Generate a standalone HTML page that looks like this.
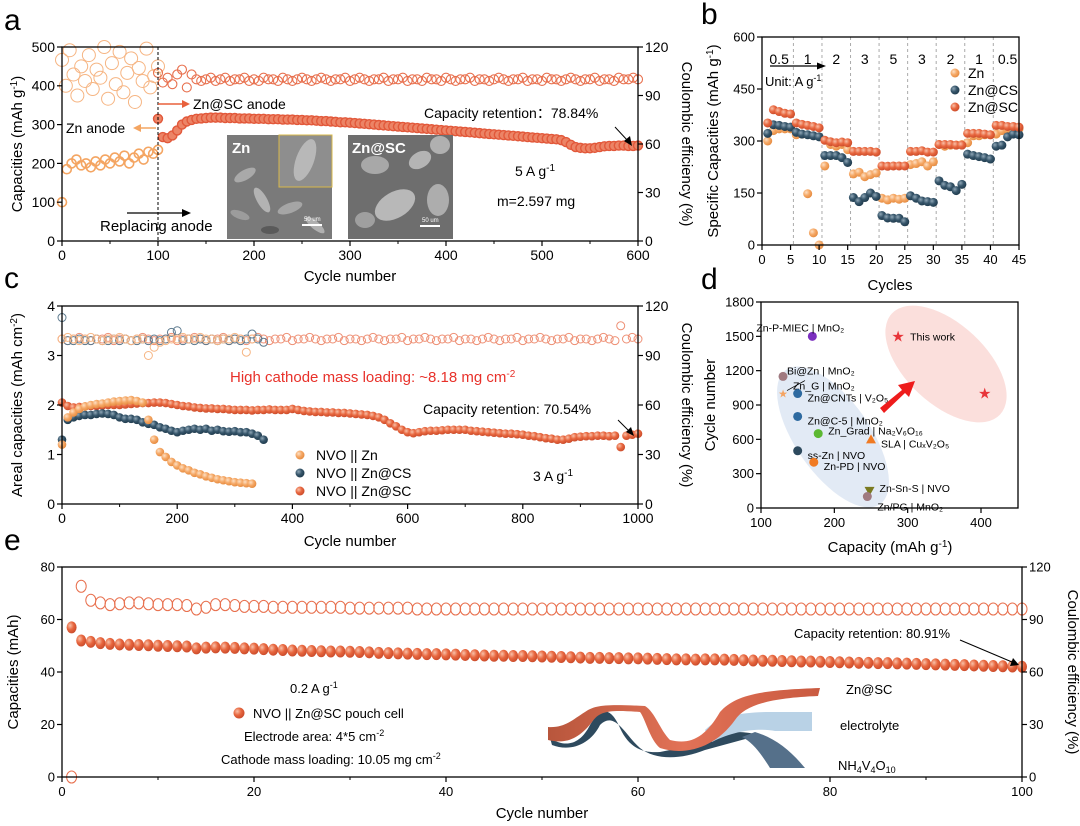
<!DOCTYPE html>
<html><head><meta charset="utf-8"><style>
html,body{margin:0;padding:0;background:#fff}
svg{display:block;font-family:"Liberation Sans",Arial,sans-serif}
</style></head><body>
<svg id="fig" width="1080" height="826" viewBox="0 0 1080 826" xmlns="http://www.w3.org/2000/svg">
<defs>
<radialGradient id="gOr" cx="0.35" cy="0.35" r="0.7"><stop offset="0" stop-color="#fde0c4"/><stop offset="0.5" stop-color="#f5a866"/><stop offset="1" stop-color="#e58a3e"/></radialGradient>
<radialGradient id="gRd" cx="0.35" cy="0.35" r="0.7"><stop offset="0" stop-color="#f8c0a8"/><stop offset="0.5" stop-color="#e8673f"/><stop offset="1" stop-color="#c94a2a"/></radialGradient>
<radialGradient id="gNv" cx="0.35" cy="0.35" r="0.7"><stop offset="0" stop-color="#8fa6b6"/><stop offset="0.5" stop-color="#36556a"/><stop offset="1" stop-color="#1f3a4c"/></radialGradient>
<linearGradient id="gRib" x1="0" y1="0" x2="1" y2="0"><stop offset="0" stop-color="#b8563c"/><stop offset="0.5" stop-color="#e27257"/><stop offset="1" stop-color="#c95a40"/></linearGradient>
</defs>
<g>
<ellipse cx="833" cy="437" rx="82" ry="37" fill="#dde6f3" opacity="0.85" transform="rotate(55 833 437)"/>
<ellipse cx="946" cy="364" rx="74" ry="40" fill="#fbdcd8" opacity="0.9" transform="rotate(43 946 364)"/>
</g>
<g id="panelA"></g>
<g id="panelB"></g>
<g id="panelC"></g>
<g id="panelD"></g>
<g id="panelE"></g>

<text x="4" y="30" font-size="30">a</text>
<text x="701" y="24" font-size="30">b</text>
<text x="4" y="288" font-size="30">c</text>
<text x="701" y="289" font-size="30">d</text>
<text x="4" y="550" font-size="30">e</text>

<g font-size="14">
<text x="22" y="144" transform="rotate(-90 22 144)" text-anchor="middle" font-size="15">Capacities (mAh g<tspan dy="-5" font-size="10">-1</tspan><tspan dy="5">)</tspan></text>
<text x="682" y="144" transform="rotate(90 682 144)" text-anchor="middle" font-size="15">Coulombic efficiency (%)</text>
<text x="350" y="281" text-anchor="middle" font-size="15">Cycle number</text>
<line x1="158" y1="104" x2="186" y2="104" stroke="#e8603c" stroke-width="1.5"/>
<polygon points="190,104 182,100 182,108" fill="#e8603c"/>
<text x="193" y="109">Zn@SC anode</text>
<line x1="156" y1="128" x2="138" y2="128" stroke="#f4a562" stroke-width="1.5"/>
<polygon points="133,128 141,124 141,132" fill="#f4a562"/>
<text x="66" y="133">Zn anode</text>
<line x1="127" y1="213" x2="184" y2="213" stroke="#000" stroke-width="1.3"/>
<polygon points="191,213 182,209 182,217" fill="#000"/>
<text x="100" y="231" font-size="15">Replacing anode</text>
<text x="424" y="118">Capacity retention：78.84%</text>
<line x1="615" y1="127" x2="628" y2="141" stroke="#000" stroke-width="1"/>
<polygon points="632,146 624,141 630,136" fill="#000"/>
<text x="515" y="176">5 A g<tspan dy="-5" font-size="10">-1</tspan></text>
<text x="497" y="206">m=2.597 mg</text>
</g>
<g>
<rect x="227" y="135" width="105" height="104" fill="#7a7a7a"/>
<ellipse cx="245" cy="175" rx="12" ry="5" fill="#a9a9a9" transform="rotate(-30 245 175)"/>
<ellipse cx="262" cy="200" rx="14" ry="5" fill="#b3b3b3" transform="rotate(60 262 200)"/>
<ellipse cx="240" cy="215" rx="10" ry="4" fill="#9c9c9c" transform="rotate(20 240 215)"/>
<ellipse cx="290" cy="208" rx="13" ry="5" fill="#a5a5a5" transform="rotate(-20 290 208)"/>
<ellipse cx="315" cy="225" rx="12" ry="4" fill="#b0b0b0" transform="rotate(40 315 225)"/>
<ellipse cx="270" cy="230" rx="9" ry="4" fill="#5a5a5a"/>
<rect x="279" y="135" width="53" height="52" fill="#8e8e8e" stroke="#d8b84a" stroke-width="1"/>
<ellipse cx="305" cy="160" rx="9" ry="22" fill="#b8b8b8" transform="rotate(20 305 160)"/>
<text x="232" y="153" font-size="15" font-weight="bold" fill="#fff">Zn</text>
<line x1="302" y1="225" x2="322" y2="225" stroke="#fff" stroke-width="2"/>
<text x="304" y="221" font-size="6" fill="#fff">50 um</text>
</g>
<g>
<rect x="348" y="135" width="105" height="104" fill="#6e6e6e"/>
<ellipse cx="375" cy="165" rx="14" ry="9" fill="#a8a8a8"/>
<ellipse cx="420" cy="160" rx="12" ry="8" fill="#b4b4b4" transform="rotate(-30 420 160)"/>
<ellipse cx="395" cy="205" rx="22" ry="13" fill="#b8b8b8" transform="rotate(-30 395 205)"/>
<ellipse cx="438" cy="200" rx="11" ry="16" fill="#adadad"/>
<ellipse cx="365" cy="220" rx="10" ry="8" fill="#9f9f9f"/>
<ellipse cx="440" cy="145" rx="10" ry="9" fill="#b0b0b0"/>
<text x="352" y="153" font-size="15" font-weight="bold" fill="#fff">Zn@SC</text>
<line x1="420" y1="226" x2="440" y2="226" stroke="#fff" stroke-width="2"/>
<text x="422" y="222" font-size="6" fill="#fff">50 um</text>
</g>

<g font-size="14">
<text x="718" y="141" transform="rotate(-90 718 141)" text-anchor="middle" font-size="15">Specific Capacities (mAh g<tspan dy="-5" font-size="10">-1</tspan><tspan dy="5">)</tspan></text>
<text x="890" y="290" text-anchor="middle" font-size="15">Cycles</text>
<line x1="770" y1="66" x2="818" y2="66" stroke="#000" stroke-width="1.2"/>
<polygon points="826,66 817,62.5 817,69.5" fill="#000"/>
<text x="765" y="86" font-size="13">Unit: A g<tspan dy="-5" font-size="9">-1</tspan></text>
<circle cx="955" cy="73" r="4.5" fill="url(#gOr)"/>
<text x="968" y="78">Zn</text>
<circle cx="955" cy="90" r="4.5" fill="url(#gNv)"/>
<text x="968" y="95">Zn@CS</text>
<circle cx="955" cy="107" r="4.5" fill="url(#gRd)"/>
<text x="968" y="112">Zn@SC</text>
</g>

<g font-size="14">
<text x="22" y="405" transform="rotate(-90 22 405)" text-anchor="middle" font-size="15">Areal capacities (mAh cm<tspan dy="-5" font-size="10">-2</tspan><tspan dy="5">)</tspan></text>
<text x="682" y="405" transform="rotate(90 682 405)" text-anchor="middle" font-size="15">Coulombic efficiency (%)</text>
<text x="350" y="546" text-anchor="middle" font-size="15">Cycle number</text>
<text x="230" y="382" font-size="15" fill="#e8312a">High cathode mass loading: ~8.18 mg cm<tspan dy="-5" font-size="10">-2</tspan></text>
<text x="423" y="414">Capacity retention: 70.54%</text>
<line x1="618" y1="420" x2="630" y2="432" stroke="#000" stroke-width="1"/>
<polygon points="634,436 626,432 631,427" fill="#000"/>
<text x="533" y="481">3 A g<tspan dy="-5" font-size="10">-1</tspan></text>
<circle cx="300" cy="455" r="4.5" fill="url(#gOr)"/>
<text x="316" y="460">NVO || Zn</text>
<circle cx="300" cy="473" r="4.5" fill="url(#gNv)"/>
<text x="316" y="478">NVO || Zn@CS</text>
<circle cx="300" cy="491" r="4.5" fill="url(#gRd)"/>
<text x="316" y="496">NVO || Zn@SC</text>
</g>

<g font-size="11">
<polygon points="880,408 902,390 898,385 915,381 909,397 905,393 884,413" fill="#ee1c1c"/>
<text x="715" y="405" transform="rotate(-90 715 405)" text-anchor="middle" font-size="15">Cycle number</text>
<text x="890" y="552" text-anchor="middle" font-size="15">Capacity (mAh g<tspan dy="-5" font-size="10">-1</tspan><tspan dy="5">)</tspan></text>
</g>

<g font-size="13">
<text x="18" y="672" transform="rotate(-90 18 672)" text-anchor="middle" font-size="15">Capacities (mAh)</text>
<text x="1068" y="672" transform="rotate(90 1068 672)" text-anchor="middle" font-size="15">Coulombic efficiency (%)</text>
<text x="542" y="818" text-anchor="middle" font-size="15">Cycle number</text>
<text x="290" y="693">0.2 A g<tspan dy="-5" font-size="9">-1</tspan></text>
<circle cx="239" cy="713" r="5.5" fill="url(#gRd)"/>
<text x="253" y="718">NVO || Zn@SC pouch cell</text>
<text x="244" y="741">Electrode area: 4*5 cm<tspan dy="-5" font-size="9">-2</tspan></text>
<text x="221" y="764">Cathode mass loading: 10.05 mg cm<tspan dy="-5" font-size="9">-2</tspan></text>
<text x="794" y="638">Capacity retention: 80.91%</text>
<line x1="960" y1="640" x2="1012" y2="662" stroke="#000" stroke-width="1"/>
<polygon points="1019,665 1010,666 1013,658" fill="#000"/>
<text x="846" y="694">Zn@SC</text>
<text x="840" y="730">electrolyte</text>
<text x="838" y="770">NH<tspan dy="3" font-size="9">4</tspan><tspan dy="-3">V</tspan><tspan dy="3" font-size="9">4</tspan><tspan dy="-3">O</tspan><tspan dy="3" font-size="9">10</tspan></text>
<g>
<path d="M550,738 C565,748 580,745 590,725 C600,708 610,705 620,728 C630,750 645,753 660,752 L700,744 C720,730 740,730 760,735 L705,750 C680,760 655,760 640,748 C625,735 615,710 600,725 C590,745 570,752 552,745 Z" fill="#2e4a5e"/>
<path d="M705,730 C720,715 745,712 770,712 L812,712 L812,731 L775,731 C760,728 735,730 712,742 Z" fill="#b9d2e6"/>
<path d="M755,732 C775,738 790,750 805,768 L770,768 C760,752 752,742 742,737 Z" fill="#55708a"/>
<path d="M548,727 C565,728 572,720 585,712 C595,705 605,704 645,706 C655,712 660,730 670,740 C690,745 705,738 720,712 C735,695 760,690 820,688 L818,696 C770,698 745,705 735,720 C715,748 685,756 660,748 C650,740 645,718 640,712 C612,710 600,710 592,722 C578,740 565,744 548,740 Z" fill="url(#gRib)"/>
</g>
</g>

<script>
const aZnCycles = [0,5,10,15,20,25,30,35,40,45,50,55,60,65,70,75,80,85,90,95,100];
const aZnCap = [100,185,200,210,195,200,190,205,195,210,200,215,205,220,200,215,225,210,230,225,235];
const aZnCECycles = [0,4,8,12,16,20,24,28,32,36,40,44,48,52,56,60,64,68,72,76,80,84,88,92,96,100];
const aZnCE = [112,96,118,103,90,108,99,115,94,106,101,120,88,110,97,117,92,104,113,86,107,99,119,95,102,108];
const aScStart = 100, aScStep = 5;
const aScCap = [315,268,265,272,285,300,308,312,315,316,
317,318,318,318,317,317,317,316,316,316,
315,315,315,314,314,314,313,313,313,312,
312,311,311,310,309,309,308,307,306,306,
305,304,303,302,301,300,299,298,297,296,
295,294,293,292,291,290,289,288,287,286,
285,284,283,282,281,280,279,278,277,276,
275,274,273,272,271,270,269,268,267,266,
265,264,263,262,260,255,248,242,240,239,
239,240,242,244,245,245,246,246,245,245,246];
const aScCE = [104,98,101,97,103,106,95,103,100,99,100,101,99,100,101,99,100,100,101,99,100,99,101,100,100,99,101,100,99,100,101,100,99,100,101,100,99,100,100,101,99,100,101,100,99,100,100,101,99,100,100,101,99,100,100,99,101,100,100,99,101,100,99,100,100,101,99,100,100,99,100,101,100,99,100,100,101,99,100,100,99,101,100,100,99,100,101,100,99,100,100,101,99,100,100,99,101,100,100,101,100];
const bCycles = [1,2,3,4,5,6,7,8,9,10,11,12,13,14,15,16,17,18,19,20,21,22,23,24,25,26,27,28,29,30,31,32,33,34,35,36,37,38,39,40,41,42,43,44,45];
const bZn = [300,330,335,335,335,318,320,148,35,0,228,290,285,290,275,205,210,197,203,208,135,130,135,132,135,232,235,240,228,240,290,285,288,288,290,295,315,315,318,318,320,330,335,335,335];
const bZnCS = [322,347,345,342,340,325,320,318,315,312,258,258,258,252,238,137,125,137,150,140,85,78,77,77,67,142,135,127,125,123,185,172,168,157,175,262,258,255,252,248,285,288,312,320,318];
const bZnSC = [352,390,385,380,378,352,348,345,342,338,302,298,295,297,295,270,270,270,270,268,228,227,228,228,228,270,270,272,268,268,290,290,290,288,288,322,322,322,320,318,345,345,342,342,340];
const bRates = ["0.5","1","2","3","5","3","2","1","0.5"];
const cStep = 10;
const cZnCap = [1.2,1.75,1.85,1.92,1.97,2.0,2.02,2.03,2.05,2.07,2.08,2.09,2.1,2.08,2.05,1.7,1.3,1.05,0.95,0.85,0.78,0.72,0.68,0.63,0.6,0.56,0.53,0.5,0.48,0.46,0.44,0.43,0.42,0.41];
const cZnCE = [100,101,100,99,100,101,100,99,100,100,101,100,99,100,100,90,95,98,99,100,100,101,100,100,101,100,100,99,100,100,101,100,92,100];
const cCSCap = [1.3,1.7,1.75,1.78,1.8,1.8,1.82,1.83,1.82,1.8,1.75,1.72,1.72,1.7,1.65,1.62,1.6,1.55,1.52,1.48,1.45,1.48,1.5,1.52,1.5,1.52,1.48,1.5,1.47,1.46,1.47,1.45,1.45,1.42,1.38,1.3];
const cCSCE = [113,99,99,100,99,99,100,99,99,100,99,100,99,99,100,99,100,99,100,104,105,99,100,99,100,99,100,99,100,99,100,99,100,103,100,98];
const cSCCap = [2.05,1.98,1.95,1.96,1.97,1.98,1.98,1.99,2.0,2.0,
2.0,2.01,2.02,2.03,2.04,2.04,2.05,2.05,2.04,2.02,
2.0,1.98,1.97,1.95,1.94,1.93,1.93,1.92,1.92,1.91,
1.9,1.9,1.9,1.89,1.9,1.9,1.91,1.9,1.9,1.9,
1.92,1.9,1.88,1.87,1.86,1.86,1.85,1.85,1.84,1.84,
1.83,1.82,1.81,1.8,1.78,1.75,1.7,1.63,1.57,1.5,
1.45,1.43,1.45,1.47,1.48,1.48,1.49,1.5,1.5,1.5,
1.5,1.48,1.47,1.46,1.45,1.44,1.43,1.42,1.42,1.41,
1.4,1.38,1.37,1.35,1.33,1.32,1.3,1.3,1.32,1.35,
1.36,1.37,1.37,1.38,1.38,1.37,1.38,1.15,1.38,1.4,1.42];
const cSCCE = [100,99,100,101,100,99,100,100,101,99,100,100,99,100,101,100,99,100,100,101,99,100,100,101,100,99,100,100,101,99,100,100,99,100,101,100,99,100,100,101,99,100,100,101,100,99,100,100,101,99,100,100,99,100,101,100,99,100,100,101,99,100,100,101,100,99,100,100,101,99,100,100,99,100,101,100,99,100,100,101,99,100,100,101,100,99,100,100,101,99,100,100,99,100,101,100,99,108,100,101,100];
const dLabels = ["Zn-P-MIEC | MnO₂","Bi@Zn | MnO₂","Zn_G | MnO₂","Zn@CNTs | V₂O₅","Zn@C-5 | MnO₂","Zn_Grad | Na₂V₆O₁₆","SLA | CuₓV₂O₅","ss-Zn | NVO","Zn-PD | NVO","Zn-Sn-S | NVO","Zn/PG | MnO₂"];
const dCapacity = [170,130,130,150,150,178,250,150,172,248,245];
const dCycles = [1500,1150,1000,1000,800,650,600,500,400,150,100];
const dThisCapacity = [287,405];
const dThisCycles = [1500,1000];
const eCycles = Array.from({length:100},(_,i)=>i+1);
const eCap = [57,52,51.5,51,50.7,50.5,50.4,50.3,50.2,50,
49.9,49.8,49.7,49,49.3,49.4,49.3,49.2,49,48.9,
48.7,48.5,48.4,48.2,48.1,48,47.9,47.8,47.8,47.7,
47.6,47.5,47.3,47.2,47.1,47,46.9,46.8,46.8,46.7,
46.6,46.5,46.4,46.3,46.2,46.2,46.1,46.1,46,45.9,
45.8,45.7,45.6,45.5,45.4,45.4,45.3,45.3,45.2,45.2,
45.1,45,44.9,44.8,44.8,44.7,44.8,44.8,44.7,44.6,
44.5,44.4,44.3,44.3,44.2,44.1,44,44,43.9,43.8,
43.7,43.6,43.5,43.5,43.4,43.4,43.3,43.2,43.1,43,
42.9,42.8,42.7,42.6,42.5,42.4,42.3,42.2,42.1,42];
const eCE = [0,109,101,99.5,98.5,99,99.5,99.5,99,98.5,
98.5,98.5,98,96,97,98.5,98.5,98,97.5,97.5,
97.5,97,97,97,97,97,97,97,97,96.5,
96.5,96.5,96.5,96.5,96.5,96.5,96,96,96,96,
96,96,96,96,96,96,96,96,96,96,
96,96,96,96,96,96,96,96,96,96,
96,96,96,96,96,96,96,96,96,96,
96,96,96,96,96,96,96,96,96,96,
96,96,96,96,96,96,96,96,96,96,
96,96,96,96,96,96,96,96,96,96];

const NS = "http://www.w3.org/2000/svg";
function mk(tag, attrs, parent){
  const e = document.createElementNS(NS, tag);
  for (const k in attrs) e.setAttribute(k, attrs[k]);
  parent.appendChild(e);
  return e;
}
function lin(d0,d1,r0,r1){ return v => r0 + (v-d0)*(r1-r0)/(d1-d0); }
function frame(g, x0,y0,x1,y1, name){
  const r = mk('rect',{x:x0,y:y0,width:x1-x0,height:y1-y0,fill:'none',stroke:'#000','stroke-width':1.3},g);
  
  
}
function xTicks(g, sx, vals, y, name, fs, minor){
  vals.forEach(v=>{
    const t = mk('line',{x1:sx(v),x2:sx(v),y1:y,y2:y+5,stroke:'#000','stroke-width':1.2},g);
    
    
    const l = mk('text',{x:sx(v),y:y+19,'text-anchor':'middle','font-size':fs},g);
    
    
    l.textContent = v;
  });
  (minor||[]).forEach(v=>{
    const t = mk('line',{x1:sx(v),x2:sx(v),y1:y,y2:y+3,stroke:'#000','stroke-width':1},g);
    
    
  });
}
function yTicks(g, sy, vals, x, name, fs, right){
  vals.forEach(v=>{
    const t = mk('line',{x1:x,x2:right?x+5:x-5,y1:sy(v),y2:sy(v),stroke:'#000','stroke-width':1.2},g);
    
    
    const l = mk('text',{x:right?x+7:x-7,y:sy(v)+fs*0.35,'text-anchor':right?'start':'end','font-size':fs},g);
    
    
    l.textContent = v;
  });
}
function range(a,b,s){ const r=[]; for(let v=a; v<=b+1e-9; v+=s) r.push(+v.toFixed(4)); return r; }

(function(){
  const g = document.getElementById('panelA');
  const X = lin(0,600,62,638), Y = lin(0,500,241,47), YR = lin(0,120,241,47);
  aZnCECycles.forEach((c,i)=>{
    const m = mk('circle',{cx:X(c),cy:YR(aZnCE[i]),r:6.5,fill:'none',stroke:'#f6b583','stroke-width':1},g);
    
    
  });
  aScCE.forEach((v,i)=>{
    const m = mk('circle',{cx:X(aScStart+i*aScStep),cy:YR(v),r:4.5,fill:'none',stroke:'#e8704e','stroke-width':1.1},g);
    
    
  });
  aZnCycles.forEach((c,i)=>{
    const m = mk('circle',{cx:X(c),cy:Y(aZnCap[i]),r:4.5,fill:'none',stroke:'#f4a562','stroke-width':1.6},g);
    
    
  });
  aScCap.forEach((v,i)=>{
    const m = mk('circle',{cx:X(aScStart+i*aScStep),cy:Y(v),r:4.5,fill:'#ec8466',stroke:'#e2583a','stroke-width':1.4},g);
    
    
  });
  const dl = mk('line',{x1:X(100),x2:X(100),y1:47,y2:241,stroke:'#000','stroke-dasharray':'3,2','stroke-width':1},g);
  
  
  frame(g,62,47,638,241,'a');
  xTicks(g,X,range(0,600,100),241,'a',14,range(50,550,100));
  yTicks(g,Y,range(0,500,100),62,'a',14,false);
  yTicks(g,YR,range(0,120,30),638,'a',14,true);
})();

(function(){
  const g = document.getElementById('panelB');
  const X = lin(0,45,762,1019), Y = lin(0,600,245,37);
  for(let k=1;k<=8;k++){
    const v = 5*k+0.5;
    const l = mk('line',{x1:X(v),x2:X(v),y1:37,y2:245,stroke:'#aaa','stroke-dasharray':'3,3','stroke-width':1},g);
    
    
  }
  bRates.forEach((r,i)=>{
    const t = mk('text',{x:X(5*i+3),y:64,'text-anchor':'middle','font-size':14},g);
    
    
    t.textContent = r;
  });
  const series = [[bZn,'url(#gOr)','b-zn-point'],[bZnCS,'url(#gNv)','b-zncs-point'],[bZnSC,'url(#gRd)','b-znsc-point']];
  series.forEach(s=>{
    s[0].forEach((v,i)=>{
      const m = mk('circle',{cx:X(bCycles[i]),cy:Y(v),r:4.5,fill:s[1]},g);
      
      
    });
  });
  frame(g,762,37,1019,245,'b');
  xTicks(g,X,range(0,45,5),245,'b',13);
  yTicks(g,Y,range(0,600,150),762,'b',13,false);
})();

(function(){
  const g = document.getElementById('panelC');
  const X = lin(0,1000,62,638), Y = lin(0,4,504,306), YR = lin(0,120,504,306);
  const ce = [[cSCCE,'#ee8f74','c-znsc-ce-point'],[cCSCE,'#5d7a8e','c-zncs-ce-point'],[cZnCE,'#f6b583','c-zn-ce-point']];
  ce.forEach(s=>{
    s[0].forEach((v,i)=>{
      const m = mk('circle',{cx:X(i*cStep),cy:YR(v),r:4,fill:'none',stroke:s[1],'stroke-width':1},g);
      
      
    });
  });
  const cap = [[cSCCap,'url(#gRd)','c-znsc-capacity-point'],[cCSCap,'url(#gNv)','c-zncs-capacity-point'],[cZnCap,'url(#gOr)','c-zn-capacity-point']];
  cap.forEach(s=>{
    s[0].forEach((v,i)=>{
      const m = mk('circle',{cx:X(i*cStep),cy:Y(v),r:4.3,fill:s[1]},g);
      
      
    });
  });
  frame(g,62,306,638,504,'c');
  xTicks(g,X,range(0,1000,200),504,'c',14,range(100,900,200));
  yTicks(g,Y,range(0,4,1),62,'c',14,false);
  yTicks(g,YR,range(0,120,30),638,'c',14,true);
})();

(function(){
  const g = document.getElementById('panelD');
  const X = lin(100,400,761,981), Y = lin(0,1800,508,302);
  const colors = ['#7b2fbf','#a07a80','#f5a462','#2e6aa0','#2e6aa0','#5cb832','#f07a22','#2e4a5e','#f07a22','#7a7a20','#a07a80'];
  const offs = [[-56,-9],[4,-6],[10,-8],[10,4],[10,4],[10,-3],[10,4],[10,4],[10,4],[10,-3],[10,10]];
  dCapacity.forEach((v,i)=>{
    const cx = X(v), cy = Y(dCycles[i]);
    let m;
    if(i===6){ m = mk('polygon',{points:`${cx},${cy-5} ${cx-5},${cy+4} ${cx+5},${cy+4}`,fill:colors[i]},g); }
    else if(i===9){ m = mk('polygon',{points:`${cx-5},${cy-4} ${cx+5},${cy-4} ${cx},${cy+5}`,fill:colors[i]},g); }
    else if(i===2){ m = mk('text',{x:cx,y:cy+4,'text-anchor':'middle','font-size':11,fill:colors[i]},g); m.textContent='★'; }
    else { m = mk('circle',{cx:cx,cy:cy,r:4.5,fill:colors[i]},g); }
    
    
    const t = mk('text',{x:cx+offs[i][0],y:cy+offs[i][1]+4,'font-size':10.5},g);
    
    
    t.textContent = dLabels[i];
  });
  const za = mk('line',{x1:X(130)+4,y1:Y(1000)-3,x2:X(130)+22,y2:Y(1000)-13,stroke:'#000','stroke-width':0.8},g);
  
  
  dThisCapacity.forEach((v,i)=>{
    const s = mk('text',{x:X(v),y:Y(dThisCycles[i])+5,'text-anchor':'middle','font-size':15,fill:'#e8353a'},g);
    
    
    s.textContent = '★';
  });
  const tw = mk('text',{x:X(dThisCapacity[0])+12,y:Y(dThisCycles[0])+4,'font-size':10.5},g);
  
  
  tw.textContent = 'This work';
  frame(g,761,302,1018,508,'d');
  xTicks(g,X,range(100,400,100),508,'d',13);
  yTicks(g,Y,range(0,1800,300),761,'d',13,false);
})();

(function(){
  const g = document.getElementById('panelE');
  const X = lin(0,100,62,1022), Y = lin(0,80,777,567), YR = lin(0,120,777,567);
  eCE.forEach((v,i)=>{
    const m = mk('ellipse',{cx:X(eCycles[i]),cy:YR(v),rx:5,ry:6,fill:'none',stroke:'#e8704e','stroke-width':1},g);
    
    
  });
  eCap.forEach((v,i)=>{
    const m = mk('ellipse',{cx:X(eCycles[i]),cy:Y(v),rx:5,ry:6,fill:'url(#gRd)'},g);
    
    
  });
  frame(g,62,567,1022,777,'e');
  xTicks(g,X,range(0,100,20),777,'e',13,range(10,90,20));
  yTicks(g,Y,range(0,80,20),62,'e',13,false);
  yTicks(g,YR,range(0,120,30),1022,'e',13,true);
})();
</script>
</svg>
</body></html>
